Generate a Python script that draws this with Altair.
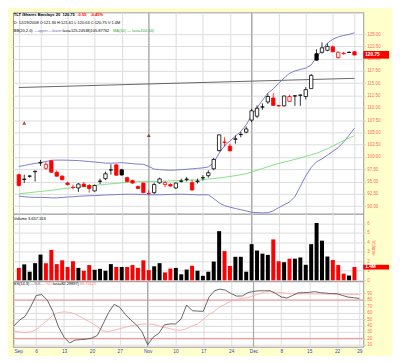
import altair as alt
import pandas as pd
import numpy as np

# ---------------- data ----------------
opens = [96.4, 95.45, 96.1, 97.0, 98.8, 97.7, 99.2, 96.9, 96.1, 94.7,
         93.85, 93.7, 94.5, 94.2, 93.1, 95.05, 95.6, 97.35, 98.4, 97.4,
         95.8, 95.2, 94.0, 94.7, 92.55, 92.75, 94.75, 94.4, 94.4, 93.7,
         95.05, 95.45, 94.8, 95.0, 95.75, 96.2, 97.6, 101.3, 103.05, 102.2,
         103.6, 104.55, 105.05, 107.5, 108.3, 110.15, 111.2, 112.0, 110.45, 110.4,
         111.3, 112.4, 112.55, 112.3, 113.9, 121.0, 121.3, 121.7, 122.4, 120.2,
         121.0, 121.25, 121.4]
highs = [96.6, 96.4, 96.3, 97.25, 99.4, 99.0, 99.4, 97.25, 96.3, 95.0,
         94.4, 94.7, 94.9, 94.5, 94.4, 95.6, 97.05, 98.5, 98.6, 97.6,
         96.0, 95.4, 94.2, 94.8, 93.2, 94.8, 95.8, 95.1, 94.7, 94.8,
         95.6, 95.9, 95.4, 95.6, 96.3, 97.3, 99.8, 104.6, 104.0, 102.7,
         104.4, 105.1, 106.2, 109.8, 110.5, 110.9, 112.9, 112.95, 110.6, 112.5,
         112.7, 112.5, 112.7, 114.2, 116.9, 121.9, 123.3, 123.1, 122.7, 121.5,
         121.4, 121.45, 121.5]
lows = [94.0, 94.7, 95.8, 95.0, 98.2, 97.4, 96.8, 96.0, 95.2, 94.2,
        93.4, 92.9, 93.85, 92.75, 93.0, 94.5, 95.3, 96.4, 96.2, 96.2,
        94.9, 94.6, 93.5, 92.6, 92.3, 92.45, 94.55, 93.85, 94.0, 93.5,
        94.8, 95.0, 93.1, 94.6, 95.2, 95.8, 97.3, 101.1, 102.1, 101.2,
        102.7, 104.0, 104.8, 107.1, 107.9, 109.6, 110.8, 110.4, 110.2, 110.3,
        111.2, 110.4, 110.4, 111.7, 113.85, 119.6, 121.0, 121.5, 121.35, 120.0,
        120.8, 121.2, 120.7]
closes = [94.2, 95.5, 96.12, 97.1, 98.9, 98.5, 96.9, 96.1, 95.4, 94.4,
          93.8, 94.5, 94.0, 93.6, 94.2, 95.1, 96.6, 97.4, 96.3, 96.35,
          95.0, 94.7, 93.6, 92.75, 92.6, 94.4, 95.55, 94.8, 94.1, 94.7,
          95.1, 95.5, 93.3, 95.1, 95.8, 96.8, 99.5, 104.5, 103.0, 101.25,
          103.7, 104.6, 105.7, 109.4, 109.9, 110.2, 112.3, 110.5, 110.4, 112.4,
          112.3, 112.45, 112.6, 113.7, 116.6, 119.7, 122.2, 122.5, 121.4, 121.3,
          121.1, 121.3, 120.75]
volume_m = [1.3, 1.67, 0.9, 1.8, 2.7, 1.8, 3.2, 1.7, 2.1, 1.4,
            2.0, 1.3, 1.0, 1.6, 1.1, 1.2, 1.0, 1.7, 1.4, 1.4,
            1.4, 1.6, 1.3, 2.1, 1.07, 1.47, 1.8, 0.83, 1.23, 1.3,
            0.63, 1.13, 1.53, 1.0, 0.47, 0.9, 1.97, 5.17, 3.07, 1.5,
            2.47, 2.47, 0.9, 3.8, 3.13, 2.8, 2.67, 4.3, 2.0, 1.9,
            2.27, 2.27, 2.4, 1.63, 3.8, 6.03, 4.17, 2.5, 2.13, 1.6,
            0.7, 0.5, 1.4]
bb_upper = [98.08, 98.27, 98.5, 98.7, 98.85, 99.08, 99.33, 99.37, 99.37, 99.35,
            99.31, 99.27, 99.17, 99.08, 98.98, 98.88, 98.75, 98.73, 98.79, 98.85,
            98.75, 98.65, 98.56, 98.52, 98.08, 97.54, 97.44, 97.35, 97.31, 97.35,
            97.44, 97.5, 97.6, 97.69, 97.79, 97.98, 98.85, 100.77, 102.3, 103.27,
            104.23, 105.19, 106.54, 108.46, 110.0, 111.54, 112.98, 113.85, 115.0, 116.06,
            117.02, 117.5, 117.79, 118.08, 118.71, 120.29, 121.73, 123.17, 123.94, 124.42,
            124.71, 124.94, 125.25]
bb_lower = [92.06, 91.92, 91.83, 91.79, 91.79, 91.77, 91.69, 91.69, 91.77, 91.87,
            91.92, 92.02, 92.08, 92.12, 92.15, 92.21, 92.27, 92.31, 92.35, 92.4,
            92.44, 92.44, 92.4, 92.35, 92.31, 92.31, 92.31, 92.35, 92.38, 92.42,
            92.44, 92.4, 92.35, 92.31, 92.31, 92.31, 91.54, 90.67, 90.1, 89.81,
            89.52, 89.29, 89.04, 88.75, 88.69, 88.65, 88.69, 89.04, 89.71, 90.29,
            90.87, 91.92, 94.04, 96.15, 97.88, 99.04, 99.62, 100.38, 101.15, 101.92,
            103.08, 104.42, 105.88]
ma50 = [92.52, 92.63, 92.75, 92.88, 92.98, 93.1, 93.23, 93.37, 93.52, 93.65,
        93.77, 93.88, 94.0, 94.12, 94.23, 94.35, 94.44, 94.54, 94.63, 94.73,
        94.83, 94.9, 94.98, 95.0, 95.02, 95.04, 95.06, 95.1, 95.13, 95.19,
        95.23, 95.27, 95.31, 95.33, 95.4, 95.52, 95.62, 95.73, 95.88, 96.04,
        96.21, 96.4, 96.62, 96.96, 97.31, 97.65, 98.02, 98.37, 98.69, 98.96,
        99.23, 99.52, 99.81, 100.13, 100.44, 100.77, 101.21, 101.69, 102.23, 102.79,
        103.35, 103.85, 104.34]
stoch_k = [39.6, 48.5, 54.4, 69.3, 87, 88.5, 79.6, 61.9, 38.1, 21.9,
           13, 17.4, 18.1, 18.9, 20.4, 24.8, 42.6, 60.4, 73.3, 68.5,
           57.4, 48.5, 41.1, 30.3, 10, 21.9, 27.8, 41.1, 42.6, 42.6,
           50, 72.2, 63.3, 62.6, 62.3, 84.1, 94.4, 97, 95.2, 90,
           86, 86.3, 91.5, 93.4, 94.4, 94.4, 94.4, 90, 84.8, 83,
           87, 91, 91.5, 91.9, 93, 91.5, 90.7, 90, 89.7, 87,
           84.5, 83.6, 82.3]
stoch_d = [31.5, 30, 29.3, 30, 33.7, 41.1, 48.5, 55.9, 60.4, 61.4,
           60.7, 58.1, 53.7, 48.5, 44.1, 38.1, 31.5, 30.7, 32.7, 35.2,
           37.4, 39.6, 41.1, 42.1, 42.6, 41.9, 39.6, 37.4, 35.2, 33,
           32.7, 35.2, 39.6, 42.6, 50, 57.4, 62.3, 69.3, 73.7, 78.1,
           81.1, 82.6, 83.6, 87, 89.6, 92.2, 93, 92.2, 91.5, 90.3,
           89.6, 89.6, 89.6, 89.6, 89.5, 89.4, 89.3, 89.2, 89.1, 89.0,
           88.9, 88.8, 88.75]

tick_idx = [0, 4, 9, 14, 19, 24, 29, 34, 39, 43, 48, 53, 58, 62]
tick_lbl = ["Sep", "6", "13", "20", "27", "Nov", "10", "17", "24", "Dec", "8", "15", "22", "29"]
month_idx = [24, 43]
trend_idx = [0, 62]
trend_val = [114.13, 116.0]
div_idx = [1, 24]
div_val = [106.9, 104.4]
price_ticks = [90 + 2.5 * k for k in range(15)]
vol_ticks = [0, 1, 2, 3, 4, 5, 6]
ss_ticks = [10, 20, 30, 40, 50, 60, 70, 80, 90]
last_close = 120.75
last_vol = 1.4

# ---------------- frame ----------------
n = len(closes)
df = pd.DataFrame({"i": list(range(n)), "open": opens, "high": highs, "low": lows,
                   "close": closes, "vol": volume_m, "upper": bb_upper, "lower": bb_lower,
                   "ma": ma50, "k": stoch_k, "d": stoch_d})
prev = df["close"].shift(1).fillna(df["open"])
df["col"] = np.where(df["close"] >= prev, "#000000", "#FF0000")
df["fillc"] = np.where(df["close"] < df["open"], df["col"], "#FFFFFF")

S = 0.9515
W = 353
H1, H2, H3 = 203, 68, 66
FONT = "Liberation Sans"
AX = "#FF6A5A"
FS = 4.5
HS = 4.0

xscale = alt.Scale(domain=[-0.17, 62.7], nice=False, zero=False)
label_expr = "[" + ",".join("'%s'" % t for t in tick_lbl) + "][indexof([" + \
    ",".join(str(t) for t in tick_idx) + "], datum.value)]"

X_PLAIN = alt.Axis(values=tick_idx, grid=True, gridColor="#dddddd", labels=False,
                   ticks=False, domain=False, title=None)
X_LAB = alt.Axis(values=tick_idx, grid=True, gridColor="#dddddd", labels=True,
                 labelExpr=label_expr, labelColor="#3344CC", labelFontSize=FS + 0.3,
                 labelFont=FONT, labelFlush=True, labelOverlap=False, ticks=False,
                 domain=False, labelPadding=1.5, title=None)


def yaxis(vals, fmt, title=None):
    kw = dict(orient="right", values=vals, grid=True, gridColor="#dddddd",
              labelColor=AX, labelFontSize=FS, labelFont=FONT, tickColor="#cccccc",
              tickSize=2, domain=False, labelPadding=1.5, format=fmt, labelOverlap=False)
    if title:
        kw.update(title=title, titleColor=AX, titleFontSize=FS, titleFont=FONT,
                  titleFontWeight="normal", titlePadding=1)
    else:
        kw.update(title=None)
    return alt.Axis(**kw)


# ---- text helpers (approximate Arial metrics, used only to avoid overlaps)
_W = {".": .278, ",": .278, ":": .278, "|": .26, "(": .333, ")": .333, "=": .584,
      "\u2014": 1.0, "%": .889, " ": .278, "-": .333, "/": .278, "i": .222, "l": .222,
      "r": .333, "t": .278, "f": .278, "m": .833, "w": .722, "I": .278, "T": .611,
      "L": .556, "M": .833}


def tw(s, size, bold=False):
    w = 0.0
    for ch in s:
        if ch in _W:
            w += _W[ch]
        elif ch.isdigit():
            w += .556
        elif ch.isupper():
            w += .667
        else:
            w += .52
    return w * size * (1.08 if bold else 1.0)


def txt(s, x, y, color="#000000", bold=False, size=HS):
    return alt.Chart(pd.DataFrame({"t": [s]})).mark_text(
        align="left", baseline="middle", font=FONT, fontSize=size, color=color,
        fontWeight="bold" if bold else "normal").encode(
        text="t:N", x=alt.value(x), y=alt.value(y))


def place(segs, y, size=HS, bold=False):
    out, cur = [], -1e9
    for s, rx, col in segs:
        x = max(rx, cur + 1.0)
        out.append(txt(s, x, y, col, bold, size))
        cur = x + tw(s, size, bold)
    return out


def loc(xref):
    return max(0.8, (xref - 3) * S)


mdf = pd.DataFrame({"i": month_idx})
base = alt.Chart(df)

# ---------------- main price panel ----------------
yprice = alt.Scale(domain=[88.46, 129.42], nice=False, zero=False)
YAX_P = yaxis(price_ticks, ".2f")


def xm(field="i:Q"):
    return alt.X(field, scale=xscale, axis=X_PLAIN)


def yp(field):
    return alt.Y(field, scale=yprice, axis=YAX_P)


months_m = alt.Chart(mdf).mark_rule(color="#aaaaaa", strokeWidth=1.2).encode(x=xm())
trend = alt.Chart(pd.DataFrame({"i": trend_idx, "v": trend_val})).mark_line(
    color="#555555", strokeWidth=0.9).encode(x=xm(), y=yp("v:Q"))
upper = base.mark_line(color="#6E6EC8", strokeWidth=0.9).encode(x=xm(), y=yp("upper:Q"))
lower = base.mark_line(color="#6E6EC8", strokeWidth=0.9).encode(x=xm(), y=yp("lower:Q"))
ma = base.mark_line(color="#77DD77", strokeWidth=0.9).encode(x=xm(), y=yp("ma:Q"))
wick = base.mark_rule(strokeWidth=0.8).encode(
    x=xm(), y=yp("low:Q"), y2="high:Q", color=alt.Color("col:N", scale=None))
body = base.mark_bar(size=3.4, strokeWidth=0.8).encode(
    x=xm(), y=yp("open:Q"), y2="close:Q",
    fill=alt.Fill("fillc:N", scale=None), stroke=alt.Stroke("col:N", scale=None))
divs = alt.Chart(pd.DataFrame({"i": div_idx, "v": div_val})).mark_point(
    shape="triangle-up", filled=True, size=16, color="#880000").encode(x=xm(), y=yp("v:Q"))

hdr = place([("TLT iShares Barclays 20", loc(1.7), "#000000"),
             ("120.75", loc(53), "#000000"),
             ("-0.55", loc(71), "#FF0000"),
             ("-0.45%", loc(85), "#FF0000")], 3.2, size=4.1, bold=True)
hdr += place([("D: 12/29/2008  O:121.36  H:121.61  L:120.63  C:120.75  V:1.4M", loc(1.7), "#000000")], 10.8)
hdr += place([("BB(20,2.0)", loc(1.7), "#000000"),
              ("\u2014upper", loc(22), "#6E6EC8"),
              ("\u2014lower", loc(37), "#6E6EC8"),
              ("last=125.24538|105.87762", loc(52), "#000000"),
              ("MA(50)", loc(109), "#33AA33"),
              ("\u2014 last=104.34|", loc(121), "#33AA33")], 18.8)

pbox = alt.Chart(pd.DataFrame({"a": [121.55], "b": [120.0]})).mark_rect(color="#FF0000").encode(
    x=alt.value(W), x2=alt.value(W + 26), y=yp("a:Q"), y2="b:Q")
ptxt = alt.Chart(pd.DataFrame({"v": [last_close], "t": ["%.2f" % last_close]})).mark_text(
    align="left", baseline="middle", font=FONT, fontSize=FS + 0.3, color="white", fontWeight="bold").encode(
    x=alt.value(W + 2), y=yp("v:Q"), text="t:N")

main = alt.layer(months_m, trend, upper, lower, ma, wick, body, divs, *hdr, pbox, ptxt).properties(
    width=W, height=H1)

# ---------------- volume panel ----------------
yvol = alt.Scale(domain=[-0.1, 7.0], nice=False, zero=False)
YAX_V = yaxis(vol_ticks, "d", "Volume")


def yv(field):
    return alt.Y(field, scale=yvol, axis=YAX_V)


months_v = alt.Chart(mdf).mark_rule(color="#aaaaaa", strokeWidth=1.2).encode(x=xm())
vbars = base.mark_bar(size=4.0).encode(
    x=xm(), y=yv("vol:Q"), y2=alt.datum(0), color=alt.Color("col:N", scale=None))
vbox = alt.Chart(pd.DataFrame({"a": [1.63], "b": [1.13]})).mark_rect(color="#FF0000").encode(
    x=alt.value(W), x2=alt.value(W + 26), y=yv("a:Q"), y2="b:Q")
vtxt = alt.Chart(pd.DataFrame({"v": [last_vol], "t": ["%.1fM" % last_vol]})).mark_text(
    align="left", baseline="middle", font=FONT, fontSize=FS + 0.3, color="white", fontWeight="bold").encode(
    x=alt.value(W + 2), y=yv("v:Q"), text="t:N")
vhdr = place([("Volume 3,657,163", loc(2.7), "#000000")], 4.8)
vol = alt.layer(months_v, vbars, *vhdr, vbox, vtxt).properties(width=W, height=H2)

# ---------------- stochastic panel ----------------
yss = alt.Scale(domain=[7, 109.3], nice=False, zero=False)
YAX_S = yaxis(ss_ticks, "d")


def xs(field="i:Q"):
    return alt.X(field, scale=xscale, axis=X_LAB)


def ys(field):
    return alt.Y(field, scale=yss, axis=YAX_S)


months_s = alt.Chart(mdf).mark_rule(color="#aaaaaa", strokeWidth=1.2).encode(x=xs())
lvl = alt.Chart(pd.DataFrame({"v": [20, 80]})).mark_rule(color="#EE8888", strokeWidth=0.9).encode(
    y=ys("v:Q"))
kline = base.mark_line(color="#555555", strokeWidth=0.9).encode(x=xs(), y=ys("k:Q"))
dline = base.mark_line(color="#FFAAAA", strokeWidth=0.9).encode(x=xs(), y=ys("d:Q"))
shdr = place([("SS(14,3)", loc(2), "#000000"),
              ("\u2014%K", loc(17), "#555555"),
              ("\u2014%D", loc(28), "#FF7777"),
              ("last=82.29897|", loc(40), "#000000"),
              ("88.75625", loc(66), "#FF7777")], 2.6)
ss = alt.layer(months_s, lvl, dline, kline, *shdr).properties(width=W, height=H3)

chart = alt.vconcat(main, vol, ss, spacing=0, bounds="flush").properties(
    background="#FFFFCC",
    padding={"left": 3, "top": 1, "right": 2, "bottom": 1},
).configure_view(stroke="#999999", fill="white", strokeWidth=1).configure_concat(spacing=0)

chart.save("out.html", embed_options={"renderer": "svg", "actions": False})
